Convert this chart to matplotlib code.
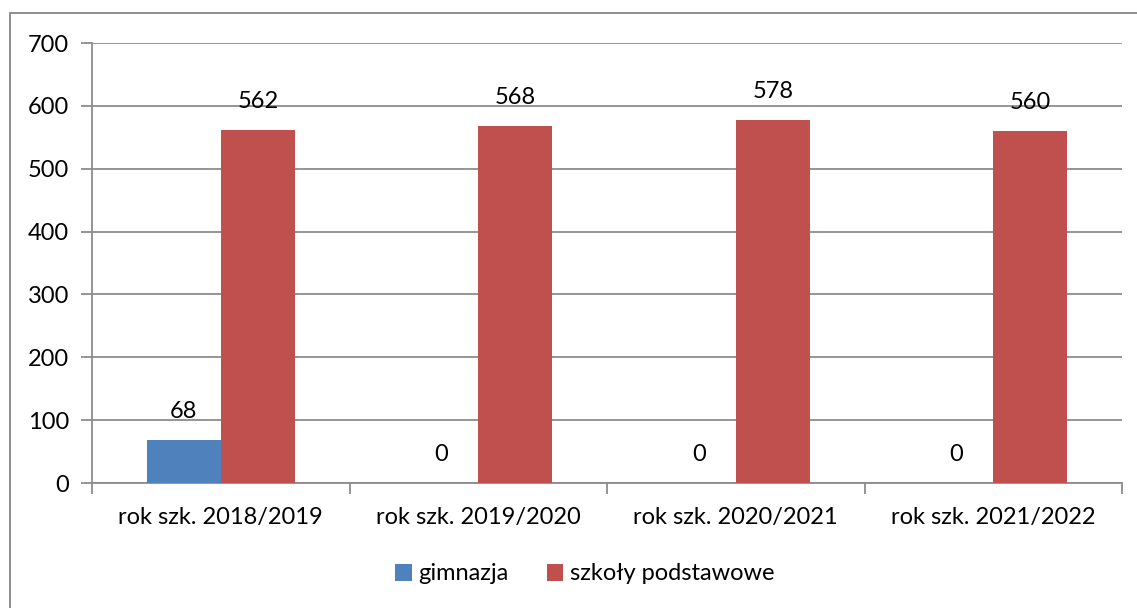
import numpy as np
import matplotlib.pyplot as plt
from matplotlib.patches import Rectangle

# data
categories = ["rok szk. 2018/2019", "rok szk. 2019/2020", "rok szk. 2020/2021", "rok szk. 2021/2022"]
gimnazja = [68, 0, 0, 0]
podstawowe = [562, 568, 578, 560]
series_names = ["gimnazja", "szkoły podstawowe"]

plt.rcParams['font.family'] = ['Lato', 'DejaVu Sans']
FS = 17

W, H = 1137, 608
fig = plt.figure(figsize=(W / 100, H / 100), dpi=100)
fig.patch.set_facecolor('white')

# outer chart border (runs off right and bottom edges)
fig.patches.append(Rectangle((10 / W, -0.5), 1.5, 1.5 - 13 / H, transform=fig.transFigure,
                             fill=False, edgecolor='#868686', linewidth=1.3))

ax = fig.add_axes([92 / W, 1 - 483 / H, (1122 - 92) / W, (483 - 43) / H])

x = np.arange(len(categories))
bw = 0.2875
grid_col = '#8c8c8c'
b1 = ax.bar(x - bw / 2, gimnazja, bw, color='#4F81BD', label=series_names[0], zorder=3)
b2 = ax.bar(x + bw / 2, podstawowe, bw, color='#C0504D', label=series_names[1], zorder=3)

for bars, vals in ((b1, gimnazja), (b2, podstawowe)):
    for rect, v in zip(bars, vals):
        ax.annotate(str(v), (rect.get_x() + rect.get_width() / 2, v), xytext=(0, 13),
                    textcoords='offset points', ha='center', va='bottom', fontsize=FS)

ax.set_xlim(-0.5, len(categories) - 0.5)
ax.set_ylim(0, 700)
ax.set_yticks(range(0, 701, 100))
ax.yaxis.grid(True, color=grid_col, linewidth=1.3, zorder=0)
ax.set_xticks(x)
ax.set_xticklabels(categories, fontsize=FS)
ax.tick_params(axis='x', length=0, pad=17)
ax.set_xticks(np.arange(-0.5, len(categories), 1), minor=True)
ax.tick_params(axis='x', which='minor', length=8, color=grid_col, width=1.3)
ax.tick_params(axis='y', length=8, color=grid_col, width=1.3, labelsize=FS, pad=8.5)

for s in ('top', 'right'):
    ax.spines[s].set_visible(False)
for s in ('left', 'bottom'):
    ax.spines[s].set_color(grid_col)
    ax.spines[s].set_linewidth(1.3)

fig.legend(handles=[b1, b2], loc='center', bbox_to_anchor=(585 / W, 1 - 574 / H), ncol=2,
           frameon=False, fontsize=FS, handlelength=0.7, handleheight=0.7,
           handletextpad=0.3, columnspacing=1.6)

plt.savefig("out.png", dpi=100)
